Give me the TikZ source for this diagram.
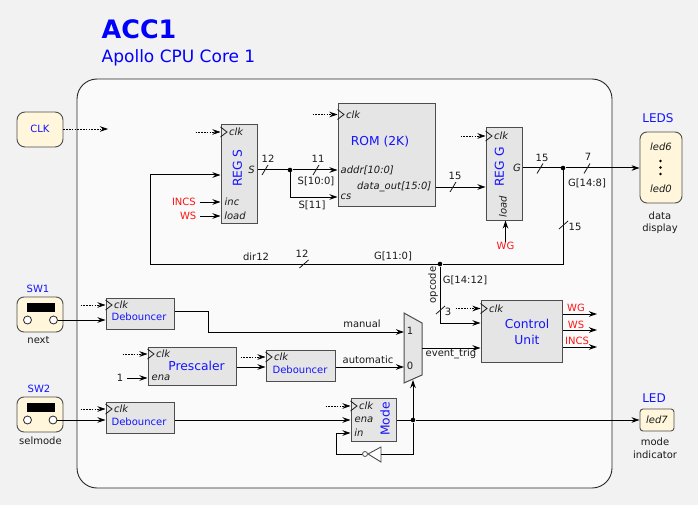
\documentclass[tikz,border=0pt]{standalone}
\usepackage{fontspec}
\setmainfont{DejaVu Sans}
\usetikzlibrary{arrows.meta,positioning}
\definecolor{pagegray}{RGB}{242,242,242}
\definecolor{coregray}{RGB}{250,250,250}
\definecolor{blockgray}{RGB}{229,229,229}
\definecolor{edgegray}{RGB}{77,77,77}
\definecolor{extyellow}{RGB}{255,246,219}
\definecolor{nameblue}{RGB}{20,20,255}
\definecolor{sigred}{RGB}{255,20,20}
\definecolor{textdark}{RGB}{26,26,26}
\tikzset{
    every node/.style={text=textdark,inner sep=0.5pt,font=\fontsize{10}{12}\selectfont},
    block/.style={draw=edgegray,fill=blockgray,line width=1pt},
    extbox/.style={draw=edgegray,fill=extyellow,line width=0.9pt,rounded corners=7pt},
    blockname/.style={text=nameblue,font=\fontsize{12.3}{15}\selectfont,align=center},
    smallname/.style={text=nameblue,font=\fontsize{10}{12}\selectfont},
    port/.style={font=\fontsize{10}{12}\selectfont\itshape},
    signame/.style={text=sigred,font=\fontsize{10}{12}\selectfont},
    wire/.style={draw=black,line width=1pt,-{Stealth[length=8pt,width=5.5pt]}},
    plainwire/.style={draw=black,line width=1pt},
    clkwire/.style={draw=black,line width=0.8pt,densely dashed,dash pattern=on 1.6pt off 1.2pt,-{Stealth[length=8pt,width=5.5pt]}},
    junction/.style={circle,fill=black,minimum size=4.6pt,inner sep=0pt},
}
\newcommand{\clkport}[2]{%
    \coordinate (#1-clk) at (#1.west |- 0,#2);
    \draw[clkwire] ([xshift=-25pt]#1-clk) -- (#1-clk);
    \draw[draw=textdark,line width=0.8pt] ([yshift=5pt]#1-clk) -- ([xshift=6.5pt]#1-clk) -- ([yshift=-5pt]#1-clk);
    \node[port,anchor=west] (#1-clklabel) at ([xshift=8pt]#1-clk) {clk};
}
\begin{document}
\begin{tikzpicture}[x=1pt,y=-1pt]
    \useasboundingbox (0,0) rectangle (698,505);
    \fill[pagegray] (0,0) rectangle (698,505);

    \node[anchor=west,text=blue,font=\fontsize{25.4}{30}\selectfont\bfseries] (title) at (101,29) {ACC1};
    \node[anchor=west,text=blue,font=\fontsize{17}{20}\selectfont] (subtitle) at (101,58) {Apollo CPU Core 1};
    \draw[draw=black!85,fill=coregray,line width=0.9pt,rounded corners=20pt] (77,79) rectangle (612,488);

    % outside boxes
    \node[extbox,minimum width=46pt,minimum height=35pt,rounded corners=8pt] (clkbox) at (40,129.5) {};
    \node[smallname] (clkname) at (40,129) {CLK};
    \node[extbox,minimum width=46pt,minimum height=35pt] (sw1) at (40,314.5) {};
    \node[extbox,minimum width=46pt,minimum height=35pt] (sw2) at (40,414.5) {};
    \foreach \sw/\y in {sw1/307,sw2/407.5} {
        \fill[black] (26.5,\y-4.5) rectangle (54.5,\y+4.5);
    }
    \node[smallname] (sw1name) at (38,288.5) {SW1};
    \node[smallname] (sw2name) at (39,389) {SW2};
    \node (nextlabel) at (38.5,340.5) {next};
    \node (selmodelabel) at (40.5,440.5) {selmode};
    \node[draw=black!85,fill=white,circle,minimum size=8pt,inner sep=0pt,line width=0.8pt] (sw1a) at (27.5,320) {};
    \node[draw=black!85,fill=white,circle,minimum size=8pt,inner sep=0pt,line width=0.8pt] (sw1b) at (53.5,320) {};
    \node[draw=black!85,fill=white,circle,minimum size=8pt,inner sep=0pt,line width=0.8pt] (sw2a) at (27.5,420) {};
    \node[draw=black!85,fill=white,circle,minimum size=8pt,inner sep=0pt,line width=0.8pt] (sw2b) at (53,420) {};

    \node[extbox,minimum width=42pt,minimum height=71pt] (leds) at (661,167.5) {};
    \node[blockname,font=\fontsize{12}{15}\selectfont] (ledsname) at (658,118.5) {LEDS};
    \node[port] (led6) at (661,147) {led6};
    \node[port] (led0) at (661,189) {led0};
    \foreach \y in {161,167.5,174} {
        \fill[black] (660.5,\y) circle (1.4pt);
    }
    \node (datalabel) at (660,216) {data};
    \node (displaylabel) at (660,229) {display};

    \node[extbox,minimum width=34pt,minimum height=22pt,rounded corners=3pt] (led) at (657,420) {};
    \node[blockname,font=\fontsize{12}{15}\selectfont] (ledname) at (654,398) {LED};
    \node[port] (led7) at (657,420) {led7};
    \node (modelabel) at (655,442) {mode};
    \node (indicatorlabel) at (655,455) {indicator};

    % blocks
    \node[block,minimum width=36pt,minimum height=98pt] (regs) at (239,174) {};
    \node[block,minimum width=97pt,minimum height=102pt] (rom) at (386.5,155) {};
    \node[block,minimum width=36pt,minimum height=92pt] (regg) at (504,174) {};
    \node[block,minimum width=81pt,minimum height=62pt] (ctrl) at (521.5,331) {};
    \node[block,minimum width=68pt,minimum height=31pt] (deb1) at (140,313.5) {};
    \node[block,minimum width=88pt,minimum height=38pt] (presc) at (192,366) {};
    \node[block,minimum width=69pt,minimum height=31pt] (deb2) at (300.5,365.5) {};
    \node[block,minimum width=68pt,minimum height=31pt] (deb3) at (140,417.5) {};
    \node[block,minimum width=45pt,minimum height=43pt] (mode) at (373.5,419.5) {};
    \draw[block] (404,313) -- (422,323) -- (422,375) -- (404,383) -- cycle;

    \node[blockname,rotate=90] (regsname) at (237.5,168) {REG S};
    \node[blockname,rotate=90] (reggname) at (499.5,167) {REG G};
    \node[blockname] (romname) at (380,142) {ROM (2K)};
    \node[blockname] (ctrlname) at (527,332) {Control\\[1pt]Unit};
    \node[blockname] (prescname) at (196.5,366) {Prescaler};
    \node[blockname,rotate=90] (modename) at (385,419) {Mode};
    \node[smallname] (deb1name) at (139,317) {Debouncer};
    \node[smallname] (deb2name) at (300,370) {Debouncer};
    \node[smallname] (deb3name) at (139,421.5) {Debouncer};

    \clkport{regs}{132}
    \clkport{rom}{114.5}
    \clkport{regg}{136}
    \clkport{ctrl}{308.5}
    \clkport{deb1}{305}
    \clkport{presc}{354}
    \clkport{deb2}{357}
    \clkport{deb3}{409}
    \clkport{mode}{406}

    \node[port] (regsS) at (251.5,170) {S};
    \node[port] (regsinc) at (232,201.5) {inc};
    \node[port] (regsload) at (235,215.5) {load};
    \node[port,anchor=west] (romaddr) at (340,170) {addr[10:0]};
    \node[port,anchor=west] (romcs) at (340,197) {cs};
    \node[port,anchor=east] (romdata) at (432,187) {data\_out[15:0]};
    \node[port] (reggG) at (517,168) {G};
    \node[port,rotate=90] (reggload) at (503,207) {load};
    \node[port] (prescena) at (161,378) {ena};
    \node[port] (modeena) at (364,420) {ena};
    \node[port] (modein) at (359,433) {in};
    \node (muxone) at (410,331) {1};
    \node (muxzero) at (410,366) {0};

    % inputs
    \node[signame,anchor=east] (incs) at (196.5,202) {INCS};
    \node[signame,anchor=east] (ws) at (197,216) {WS};
    \node[signame] (wg) at (505.5,246) {WG};
    \node (one) at (120,378) {1};
    \coordinate (clkend) at (108,129);
    \draw[clkwire] (clkbox.east |- clkend) -- (clkend);
    \draw[wire] (incs.east) ++(3pt,0) -- (regs.west |- incs);
    \draw[wire] (ws.east) ++(3pt,0) -- (regs.west |- ws);
    \draw[wire] (wg.north) -- (regg.south -| wg);
    \draw[wire] (one.east) ++(3pt,0) -- (presc.west |- one);

    % S and G wires
    \node[junction] (jS) at (290,170) {};
    \node[junction] (jG) at (563,168) {};
    \node[junction] (jOp) at (440,264) {};
    \node[junction] (jMode) at (413,420) {};
    \coordinate (busleft) at (150,264);
    \coordinate (regsback) at (150,175);
    \coordinate (opturn) at (440,323);
    \draw[wire] (regs.east |- jS) -- (jS) -- (rom.west |- jS);
    \draw[wire] (jS) |- (rom.west |- romcs);
    \draw[wire] (rom.east |- romdata) -- (regg.west |- romdata);
    \draw[wire] (regg.east |- jG) -- (jG) -- (leds.west |- jG);
    \draw[plainwire] (jG) |- (jOp) -- (busleft) -- (regsback);
    \draw[wire] (regsback) -- (regs.west |- regsback);
    \draw[wire] (jOp) -- (opturn) -- (ctrl.west |- opturn);

    \foreach \x/\y/\lx/\ly/\val in {265/170/268/159/12,316/170/318/159/11,453/187/455/176/15,540/168.5/542/158/15,587/168.5/588/157/7} {
        \draw[draw=textdark,line width=0.8pt] (\x-3,\y+5) -- (\x+3,\y-5);
        \node (mark\val\x) at (\lx,\ly) {\val};
    }
    \foreach \x/\y/\lx/\ly/\val in {563.5/225/575/227/15,304/264/302/254/12,440.5/310/448/312/3} {
        \draw[draw=textdark,line width=0.8pt] (\x-4.5,\y+4) -- (\x+4.5,\y-4);
        \node (mark\val) at (\lx,\ly) {\val};
    }
    \node (s10) at (316,181) {S[10:0]};
    \node (s11) at (312,205) {S[11]};
    \node (g14) at (587,183) {G[14:8]};
    \node (g11) at (393,256) {G[11:0]};
    \node (dir12) at (256,257) {dir12};
    \node[rotate=90] (opcode) at (433,285) {opcode};
    \node (g1412) at (465,280) {G[14:12]};

    % lower half
    \coordinate (manualturn) at (208,332);
    \coordinate (muxin1) at (404,332);
    \coordinate (muxin0) at (404,367);
    \coordinate (muxout) at (422,348);
    \coordinate (muxsel) at (413,380);
    \draw[wire] (sw1b.east) -- (deb1.west |- sw1b);
    \draw[wire] (sw2b.east) -- (deb3.west |- sw2b);
    \draw[wire] (deb1.east |- 0,311) -| (manualturn) -- (muxin1);
    \draw[wire] (presc.east |- muxin0) -- (deb2.west |- muxin0);
    \draw[wire] (deb2.east |- muxin0) -- (muxin0);
    \draw[wire] (deb3.east |- modeena) -- (mode.west |- modeena);
    \draw[wire] (muxout) -- (ctrl.west |- muxout);
    \node (manuallabel) at (362,324) {manual};
    \node (autolabel) at (368,360) {automatic};
    \node (evlabel) at (451,354) {event\_trig};

    \draw[wire] (mode.east |- jMode) -- (jMode) -- (led.west |- jMode);
    \draw[wire] (jMode) -- (muxsel);

    % inverter
    \coordinate (invin) at (381,454);
    \coordinate (modeback) at (336,454);
    \node[draw=edgegray,fill=white,circle,minimum size=5pt,inner sep=0pt,line width=0.8pt] (invb) at (365,454) {};
    \draw[draw=edgegray,fill=white,line width=0.9pt] (381,447) -- (368,454) -- (381,462) -- cycle;
    \draw[plainwire] (jMode) |- (invin);
    \draw[wire] (invb.west) -- (modeback) |- (mode.west |- modein);

    % control outputs
    \node[signame] (wgout) at (576,308) {WG};
    \node[signame] (wsout) at (576,325) {WS};
    \node[signame] (incsout) at (577,341) {INCS};
    \coordinate (wgend) at (597,314);
    \coordinate (wsend) at (597,330);
    \coordinate (incsend) at (597,347);
    \draw[wire] (ctrl.east |- wgend) -- (wgend);
    \draw[wire] (ctrl.east |- wsend) -- (wsend);
    \draw[wire] (ctrl.east |- incsend) -- (incsend);
\end{tikzpicture}
\end{document}
